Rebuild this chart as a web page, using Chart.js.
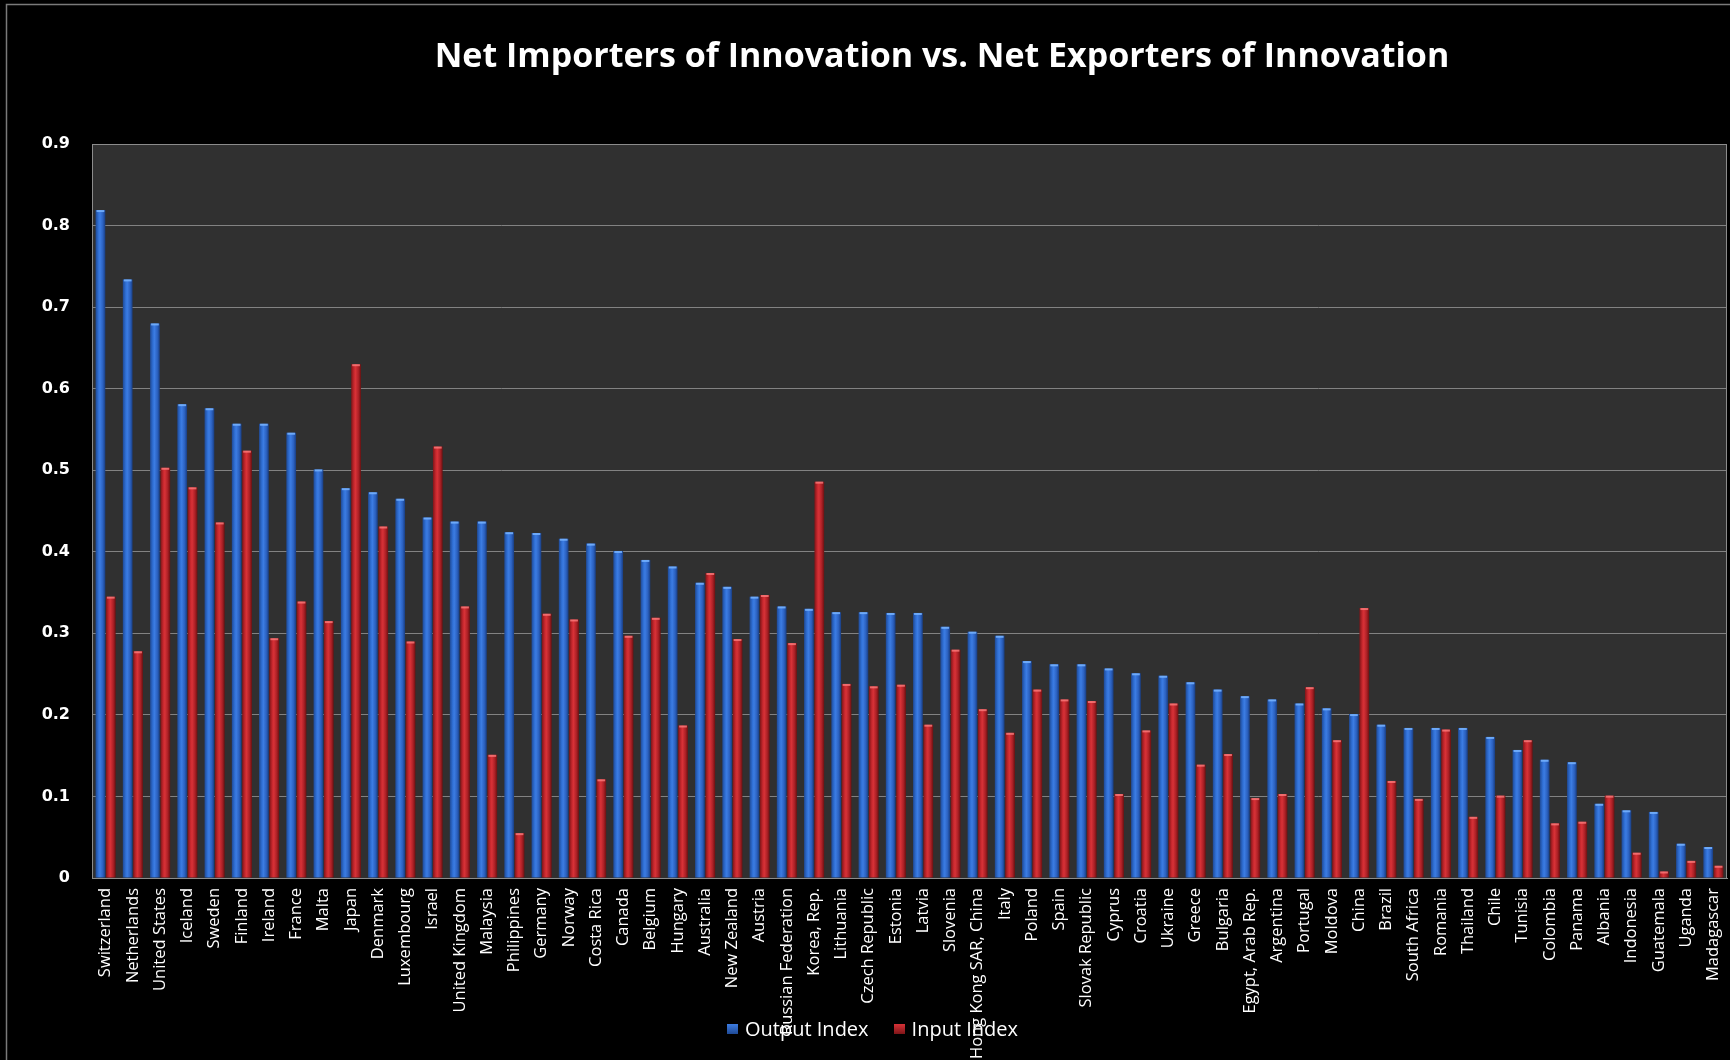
<!DOCTYPE html>
<html>
<head>
<meta charset="utf-8">
<title>Net Importers of Innovation vs. Net Exporters of Innovation</title>
<script src="https://cdn.jsdelivr.net/npm/chart.js@4.4.1/dist/chart.umd.min.js"></script>
<style>
  html, body { margin: 0; padding: 0; background: #000; }
  #wrap { width: 1730px; height: 1060px; position: relative; overflow: hidden; }
  #wrap canvas { position: absolute; left: 0; top: 0; }
  #chartTitle {
    position: absolute; left: 242px; top: 37px; width: 1400px;
    text-align: center; color: #fff;
    font: bold 34px/34px "Open Sans", sans-serif;
    white-space: nowrap;
  }
  #chartLegend {
    position: absolute; left: 727px; top: 1019px; height: 20px;
    display: flex; align-items: center;
    color: #fff; font: 20px/20px "Open Sans", sans-serif;
    white-space: nowrap;
  }
  #chartLegend .item { display: flex; align-items: center; margin-right: 25px; }
  #chartLegend .swatch { width: 11px; height: 10px; margin-right: 7px; }
</style>
</head>
<body>
<div id="wrap">
  <canvas id="innovationChart" width="1730" height="1060"></canvas>
  <div id="chartTitle">Net Importers of Innovation vs. Net Exporters of Innovation</div>
  <div id="chartLegend"></div>
</div>
<script>
const countries = [
  "Switzerland", "Netherlands", "United States", "Iceland", "Sweden", "Finland",
  "Ireland", "France", "Malta", "Japan", "Denmark", "Luxembourg", "Israel",
  "United Kingdom", "Malaysia", "Philippines", "Germany", "Norway", "Costa Rica",
  "Canada", "Belgium", "Hungary", "Australia", "New Zealand", "Austria",
  "Russian Federation", "Korea, Rep.", "Lithuania", "Czech Republic", "Estonia",
  "Latvia", "Slovenia", "Hong Kong SAR, China", "Italy", "Poland", "Spain",
  "Slovak Republic", "Cyprus", "Croatia", "Ukraine", "Greece", "Bulgaria",
  "Egypt, Arab Rep.", "Argentina", "Portugal", "Moldova", "China", "Brazil",
  "South Africa", "Romania", "Thailand", "Chile", "Tunisia", "Colombia",
  "Panama", "Albania", "Indonesia", "Guatemala", "Uganda", "Madagascar"
];

const outputIndex = [
  0.819, 0.734, 0.680, 0.581, 0.576, 0.557, 0.557, 0.546, 0.501, 0.478,
  0.473, 0.465, 0.442, 0.437, 0.437, 0.424, 0.423, 0.416, 0.410, 0.401,
  0.390, 0.382, 0.362, 0.357, 0.345, 0.333, 0.330, 0.326, 0.326, 0.325,
  0.325, 0.308, 0.302, 0.297, 0.266, 0.262, 0.262, 0.257, 0.251, 0.248,
  0.240, 0.231, 0.223, 0.219, 0.214, 0.208, 0.201, 0.188, 0.184, 0.184,
  0.184, 0.173, 0.157, 0.145, 0.142, 0.091, 0.083, 0.081, 0.042, 0.038
];

const inputIndex = [
  0.345, 0.278, 0.503, 0.479, 0.436, 0.524, 0.294, 0.339, 0.315, 0.630,
  0.431, 0.290, 0.529, 0.333, 0.151, 0.055, 0.324, 0.317, 0.121, 0.297,
  0.319, 0.187, 0.374, 0.293, 0.347, 0.288, 0.486, 0.238, 0.235, 0.237,
  0.188, 0.280, 0.207, 0.178, 0.231, 0.219, 0.217, 0.103, 0.181, 0.214,
  0.139, 0.152, 0.098, 0.103, 0.234, 0.169, 0.331, 0.119, 0.097, 0.182,
  0.075, 0.101, 0.169, 0.067, 0.069, 0.101, 0.031, 0.008, 0.021, 0.015
];

const yMin = 0;
const yMax = 0.9;
const yStep = 0.1;

// colour stops for the "cylinder" look of each bar
const barShades = {
  blue: ["#1f4a96", "#3070d6", "#3c7ce2", "#2b61c0", "#193d80"],
  red:  ["#7e1518", "#c8282e", "#d73237", "#ac2026", "#6a1111"]
};

// black page, thin grey frame, dark plot area with grey border
const backdrop = {
  id: "backdrop",
  beforeDraw(chart) {
    const { ctx, chartArea: a } = chart;
    ctx.save();
    ctx.fillStyle = "#000";
    ctx.fillRect(0, 0, chart.width, chart.height);
    ctx.strokeStyle = "#7a7a7a";
    ctx.lineWidth = 1.5;
    ctx.beginPath();
    ctx.moveTo(6.5, chart.height);
    ctx.lineTo(6.5, 4.5);
    ctx.lineTo(chart.width, 4.5);
    ctx.stroke();
    ctx.fillStyle = "#303030";
    ctx.fillRect(a.left, a.top, a.right - a.left, a.bottom - a.top);
    ctx.restore();
  },
  beforeDatasetsDraw(chart) {
    const { ctx, chartArea: a } = chart;
    ctx.save();
    ctx.strokeStyle = "#8c8c8c";
    ctx.lineWidth = 1;
    ctx.strokeRect(a.left + 0.5, a.top + 0.5, a.right - a.left - 1, a.bottom - a.top);
    ctx.restore();

    // swap flat fills for horizontal gradients
    chart.data.datasets.forEach((ds, i) => {
      const shades = barShades[ds.shade];
      chart.getDatasetMeta(i).data.forEach((bar) => {
        const { x, width } = bar.getProps(["x", "width"], true);
        const g = ctx.createLinearGradient(x - width / 2, 0, x + width / 2, 0);
        g.addColorStop(0, shades[0]);
        g.addColorStop(0.3, shades[1]);
        g.addColorStop(0.45, shades[2]);
        g.addColorStop(0.75, shades[3]);
        g.addColorStop(1, shades[4]);
        bar.options.backgroundColor = g;
      });
    });
  },
  afterDatasetsDraw(chart) {
    const { ctx } = chart;
    ctx.save();
    chart.data.datasets.forEach((ds, i) => {
      ctx.fillStyle = ds.shade === "blue" ? "rgba(120,180,255,0.85)" : "rgba(255,130,130,0.75)";
      chart.getDatasetMeta(i).data.forEach((bar) => {
        const { x, y, width, base } = bar.getProps(["x", "y", "width", "base"], true);
        if (base - y < 3) return;
        ctx.fillRect(x - width / 2 + 1, y, width - 2, 2);
      });
    });
    ctx.restore();
  }
};

const ctx = document.getElementById("innovationChart").getContext("2d");
const chart = new Chart(ctx, {
  type: "bar",
  data: {
    labels: countries,
    datasets: [
      {
        label: "Output Index",
        shade: "blue",
        data: outputIndex,
        backgroundColor: () => "#3070d6",
        borderWidth: 0,
        categoryPercentage: 0.76,
        barPercentage: 0.94
      },
      {
        label: "Input Index",
        shade: "red",
        data: inputIndex,
        backgroundColor: () => "#c8282e",
        borderWidth: 0,
        categoryPercentage: 0.76,
        barPercentage: 0.94
      }
    ]
  },
  options: {
    responsive: false,
    animation: false,
    layout: { padding: { left: 0, right: 3, top: 144, bottom: 0 } },
    scales: {
      x: {
        grid: { display: false, drawTicks: false },
        border: { display: true, color: "#8c8c8c" },
        ticks: {
          autoSkip: false,
          maxRotation: 90,
          minRotation: 90,
          padding: 10,
          color: "#ffffff",
          font: { family: "Open Sans", size: 16.5 }
        },
        afterFit: (scale) => {
          scale.height = 182;
          scale.paddingLeft = 0;
          scale.paddingRight = 0;
        }
      },
      y: {
        min: yMin,
        max: yMax,
        grid: { color: "#828282", drawTicks: false },
        border: { display: true, color: "#8c8c8c" },
        ticks: {
          stepSize: yStep,
          padding: 22,
          color: "#ffffff",
          font: { family: "DejaVu Sans", size: 16, weight: "bold" },
          callback: (v) => String(Number(v.toFixed(1)))
        },
        afterFit: (scale) => { scale.width = 92; }
      }
    },
    plugins: {
      title: { display: false },
      legend: { display: false },
      tooltip: { enabled: false }
    }
  },
  plugins: [backdrop]
});

// legend overlaps the long category labels, as in the original
const legendEl = document.getElementById("chartLegend");
chart.data.datasets.forEach((ds) => {
  const shades = barShades[ds.shade];
  const item = document.createElement("span");
  item.className = "item";
  const sw = document.createElement("span");
  sw.className = "swatch";
  sw.style.background = "linear-gradient(to bottom, " + shades[2] + ", " + shades[0] + ")";
  item.appendChild(sw);
  item.appendChild(document.createTextNode(ds.label));
  legendEl.appendChild(item);
});
</script>
</body>
</html>
